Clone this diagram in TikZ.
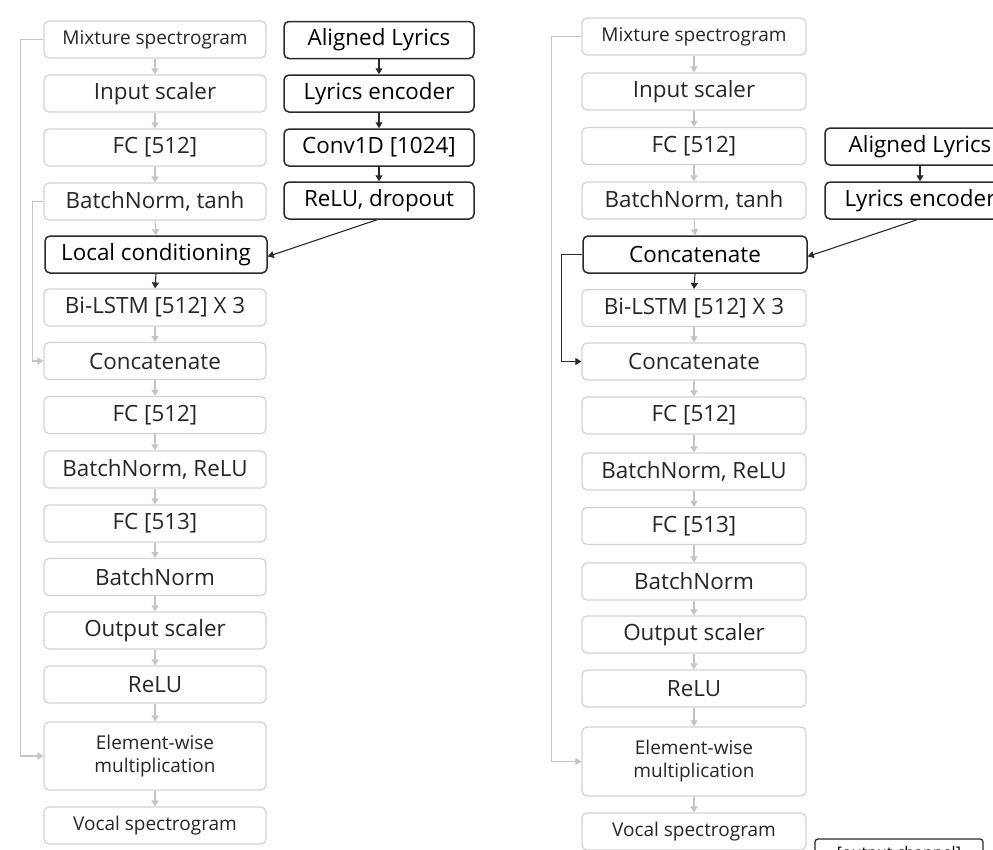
\documentclass[tikz,border=0pt]{standalone}
\usepackage{fontspec}
\setmainfont{Open Sans}
\usetikzlibrary{arrows.meta}
\definecolor{gline}{HTML}{D2D2D2}
\definecolor{garr}{HTML}{C4C4C4}
\definecolor{dline}{HTML}{2A2A2A}
\begin{document}
\begin{tikzpicture}[x=1pt,y=-1pt,
  gbox/.style={draw=gline,line width=1.2pt,rounded corners=5pt,minimum height=37pt,text=black!85,inner sep=0pt,font=\fontsize{22.4}{26}\selectfont},
  dbox/.style={draw=dline,line width=1.5pt,rounded corners=5pt,minimum height=37pt,text=black,inner sep=0pt,font=\fontsize{22.4}{26}\selectfont},
  lw/.style={minimum width=222pt},
  rw/.style={minimum width=224pt},
  yw/.style={minimum width=190pt},
  small/.style={font=\fontsize{19}{23}\selectfont},
  garrow/.style={draw=garr,line width=1.1pt,-{Triangle[width=7pt,length=6pt]}},
  gline/.style={draw=garr,line width=1.1pt},
  darrow/.style={draw=dline,line width=1.1pt,-{Triangle[width=7pt,length=6pt]}}]
\useasboundingbox (0,0) rectangle (993,849);
\clip (0,0) rectangle (993,849);
% left column
\node[gbox,lw,small] (lm) at (155,39.5) {Mixture spectrogram};
\node[gbox,lw] (li) at (155,93.5) {Input scaler};
\node[gbox,lw] (lf1) at (155,147.5) {FC [512]};
\node[gbox,lw] (lbt) at (155,201.5) {BatchNorm, tanh};
\node[dbox,lw] (llc) at (156,254.5) {Local conditioning};
\node[gbox,lw] (llstm) at (155,307.5) {Bi-LSTM [512] X 3};
\node[gbox,lw] (lcat) at (155,361) {Concatenate};
\node[gbox,lw] (lf2) at (155,415) {FC [512]};
\node[gbox,lw] (lbr) at (155,469.5) {BatchNorm, ReLU};
\node[gbox,lw] (lf3) at (155,523.5) {FC [513]};
\node[gbox,lw] (lbn) at (155,577) {BatchNorm};
\node[gbox,lw] (los) at (155,630.5) {Output scaler};
\node[gbox,lw] (lre) at (155,684.5) {ReLU};
\node[gbox,lw,small,minimum height=68pt,align=center] (lel) at (155,756) {Element-wise\\multiplication};
\node[gbox,lw,small] (lvo) at (155,825.5) {Vocal spectrogram};
% left lyrics
\node[dbox,yw] (la) at (379,40) {Aligned Lyrics};
\node[dbox,yw] (lle) at (379,93.5) {Lyrics encoder};
\node[dbox,yw] (lcv) at (379,147.5) {Conv1D [1024]};
\node[dbox,yw] (lrd) at (379,200.5) {ReLU, dropout};
% right column
\node[gbox,rw,small] (rm) at (694,36.5) {Mixture spectrogram};
\node[gbox,rw] (ri) at (694,91.5) {Input scaler};
\node[gbox,rw] (rf1) at (694,146) {FC [512]};
\node[gbox,rw] (rbt) at (694,200.5) {BatchNorm, tanh};
\node[dbox,rw] (rc1) at (695,254.5) {Concatenate};
\node[gbox,rw] (rlstm) at (694,308) {Bi-LSTM [512] X 3};
\node[gbox,rw] (rcat) at (694,361.5) {Concatenate};
\node[gbox,rw] (rf2) at (694,415.5) {FC [512]};
\node[gbox,rw] (rbr) at (694,471.5) {BatchNorm, ReLU};
\node[gbox,rw] (rf3) at (694,526) {FC [513]};
\node[gbox,rw] (rbn) at (694,581.5) {BatchNorm};
\node[gbox,rw] (ros) at (694,634.5) {Output scaler};
\node[gbox,rw] (rre) at (694,688.5) {ReLU};
\node[gbox,rw,small,minimum height=69pt,align=center] (rel) at (694,761.5) {Element-wise\\multiplication};
\node[gbox,rw,small] (rvo) at (694,831.5) {Vocal spectrogram};
% right lyrics
\node[dbox,yw] (ra) at (920,146.5) {Aligned Lyrics};
\node[dbox,yw] (rle) at (920,200.5) {Lyrics encoder};
% output channel box (cropped in the reference)
\node[draw=dline,line width=1.2pt,rounded corners=3pt,minimum width=168pt,minimum height=30pt,inner sep=0pt,font=\fontsize{16}{19}\selectfont] (oc) at (899,854) {[output channel]};
% left gray arrows
\foreach \a/\b in {lm/li,li/lf1,lf1/lbt,lbt/llc,llstm/lcat,lcat/lf2,lf2/lbr,lbr/lf3,lf3/lbn,lbn/los,los/lre,lre/lel,lel/lvo}
  \draw[garrow] (\a.south) -- (\b.north);
\draw[darrow] (llc.south) -- (llstm.north);
% left lyrics arrows
\foreach \a/\b in {la/lle,lle/lcv,lcv/lrd}
  \draw[darrow] (\a.south) -- (\b.north);
\draw[darrow] ([xshift=-2pt]lrd.south) -- ([yshift=-2pt]llc.east);
% left skip lines
\draw[garrow] (lm.west) -- ++(-23,0) |- (lel.west);
\draw[garrow] (lbt.west) -- ++(-11,0) |- (lcat.west);
% right gray arrows
\foreach \a/\b in {rm/ri,ri/rf1,rf1/rbt,rbt/rc1,rlstm/rcat,rcat/rf2,rf2/rbr,rbr/rf3,rf3/rbn,rbn/ros,ros/rre,rre/rel,rel/rvo}
  \draw[garrow] (\a.south) -- (\b.north);
\draw[darrow] (rc1.south) -- (rlstm.north);
\draw[darrow] (ra.south) -- (rle.north);
\draw[darrow] ([xshift=-3pt]rle.south) -- ([yshift=-2pt]rc1.east);
% right skip lines
\draw[garrow] (rm.west) -- ++(-30,0) |- (rel.west);
\draw[darrow] (rc1.west) -- ++(-21,0) |- (rcat.west);
\end{tikzpicture}
\end{document}
